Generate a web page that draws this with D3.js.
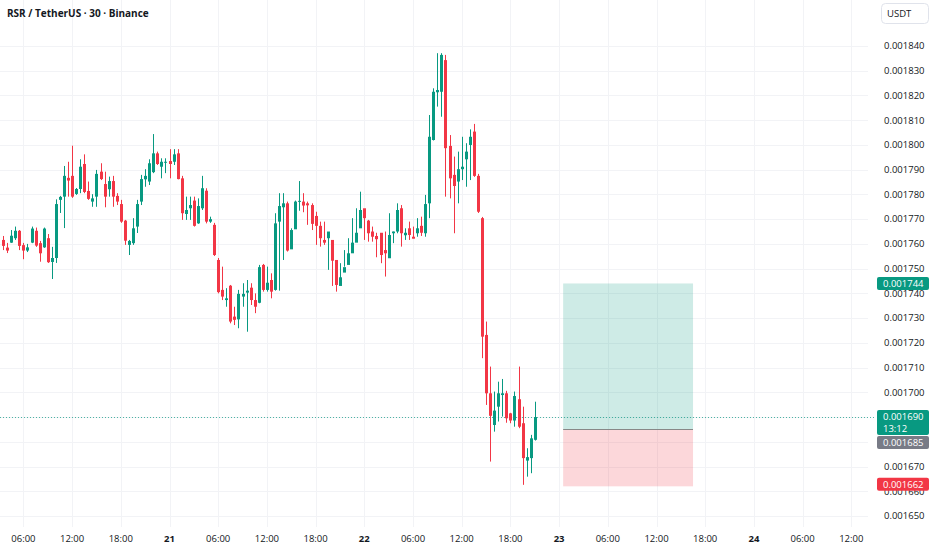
<!DOCTYPE html>
<html>
<head>
<meta charset="utf-8">
<script src="https://cdn.jsdelivr.net/npm/d3@7"></script>
<style>
  html, body { margin: 0; padding: 0; background: #fff; }
  svg { display: block; font-family: "Open Sans", "Noto Sans", sans-serif; }
</style>
</head>
<body>
<svg id="chart" width="932" height="550"></svg>
<script>
// --- data -------------------------------------------------------------
const title = "RSR / TetherUS · 30 · Binance";
const currency = "USDT";
const firstBar = Date.UTC(2025, 5, 20, 3, 30); // 30 min bars from the 20th, 03:30
const barMinutes = 30;

const opens = [
  0.0017616, 0.0017585, 0.0017605, 0.0017623, 0.0017653, 0.0017595, 0.0017573, 0.0017605, 0.0017653, 0.0017603,
  0.0017586, 0.0017623, 0.0017527, 0.0017543, 0.0017778, 0.0017791, 0.0017867, 0.0017875, 0.0017802, 0.0017822,
  0.0017923, 0.0017814, 0.0017771, 0.0017791, 0.0017892, 0.0017842, 0.0017821, 0.0017854, 0.0017794, 0.0017761,
  0.0017694, 0.0017596, 0.0017603, 0.0017670, 0.0017771, 0.0017861, 0.0017852, 0.0017890, 0.0017966, 0.0017912,
  0.0017928, 0.0017935, 0.0017932, 0.0017966, 0.0017865, 0.0017721, 0.0017744, 0.0017775, 0.0017683, 0.0017744,
  0.0017815, 0.0017690, 0.0017677, 0.0017535, 0.0017414, 0.0017373, 0.0017431, 0.0017306, 0.0017295, 0.0017387,
  0.0017403, 0.0017423, 0.0017373, 0.0017362, 0.0017515, 0.0017414, 0.0017454, 0.0017414, 0.0017690, 0.0017748,
  0.0017764, 0.0017578, 0.0017659, 0.0017770, 0.0017771, 0.0017764, 0.0017757, 0.0017713, 0.0017673, 0.0017616,
  0.0017623, 0.0017616, 0.0017535, 0.0017430, 0.0017484, 0.0017515, 0.0017562, 0.0017605, 0.0017663, 0.0017744,
  0.0017694, 0.0017650, 0.0017632, 0.0017645, 0.0017575, 0.0017542, 0.0017643, 0.0017650, 0.0017744, 0.0017635,
  0.0017663, 0.0017629, 0.0017643, 0.0017673, 0.0017643, 0.0017764, 0.0018020, 0.0018213, 0.0018215, 0.0018343,
  0.0017996, 0.0017879, 0.0017852, 0.0017902, 0.0017942, 0.0018000, 0.0018054, 0.0017875, 0.0017704, 0.0017232,
  0.0016996, 0.0016868, 0.0016942, 0.0016989, 0.0016996, 0.0016915, 0.0016886, 0.0016972, 0.0016875, 0.0016724,
  0.0016734, 0.0016808
];
const highs = [
  0.0017632, 0.0017604, 0.0017656, 0.0017670, 0.0017656, 0.0017604, 0.0017600, 0.0017670, 0.0017666, 0.0017612,
  0.0017666, 0.0017640, 0.0017588, 0.0017780, 0.0017794, 0.0017915, 0.0017932, 0.0017997, 0.0017826, 0.0017942,
  0.0017962, 0.0017852, 0.0017801, 0.0017899, 0.0017926, 0.0017892, 0.0017872, 0.0017875, 0.0017805, 0.0017778,
  0.0017697, 0.0017616, 0.0017704, 0.0017778, 0.0017879, 0.0017902, 0.0017942, 0.0018044, 0.0017973, 0.0017946,
  0.0017946, 0.0017983, 0.0017983, 0.0017983, 0.0017875, 0.0017791, 0.0017791, 0.0017791, 0.0017784, 0.0017875,
  0.0017825, 0.0017710, 0.0017685, 0.0017543, 0.0017508, 0.0017421, 0.0017434, 0.0017346, 0.0017414, 0.0017441,
  0.0017454, 0.0017441, 0.0017400, 0.0017515, 0.0017519, 0.0017508, 0.0017481, 0.0017724, 0.0017805, 0.0017805,
  0.0017771, 0.0017663, 0.0017775, 0.0017854, 0.0017805, 0.0017771, 0.0017764, 0.0017730, 0.0017690, 0.0017690,
  0.0017629, 0.0017569, 0.0017522, 0.0017522, 0.0017575, 0.0017623, 0.0017704, 0.0017744, 0.0017811, 0.0017705,
  0.0017697, 0.0017670, 0.0017645, 0.0017609, 0.0017650, 0.0017724, 0.0017650, 0.0017764, 0.0017757, 0.0017663,
  0.0017690, 0.0017670, 0.0017704, 0.0017710, 0.0017798, 0.0018121, 0.0018229, 0.0018371, 0.0018371, 0.0018364,
  0.0018040, 0.0017953, 0.0017973, 0.0018033, 0.0018007, 0.0018063, 0.0018085, 0.0017883, 0.0017709, 0.0017286,
  0.0017104, 0.0017003, 0.0017043, 0.0017054, 0.0017006, 0.0016917, 0.0017003, 0.0017104, 0.0016942, 0.0016774,
  0.0016828, 0.0016962
];
const lows = [
  0.0017575, 0.0017563, 0.0017604, 0.0017616, 0.0017575, 0.0017538, 0.0017567, 0.0017603, 0.0017588, 0.0017528,
  0.0017584, 0.0017523, 0.0017458, 0.0017523, 0.0017725, 0.0017664, 0.0017791, 0.0017786, 0.0017798, 0.0017805,
  0.0017805, 0.0017778, 0.0017750, 0.0017750, 0.0017858, 0.0017748, 0.0017791, 0.0017750, 0.0017757, 0.0017685,
  0.0017596, 0.0017555, 0.0017596, 0.0017644, 0.0017757, 0.0017831, 0.0017838, 0.0017886, 0.0017919, 0.0017865,
  0.0017886, 0.0017865, 0.0017919, 0.0017861, 0.0017697, 0.0017697, 0.0017697, 0.0017670, 0.0017681, 0.0017737,
  0.0017683, 0.0017685, 0.0017551, 0.0017400, 0.0017373, 0.0017346, 0.0017279, 0.0017272, 0.0017259, 0.0017346,
  0.0017245, 0.0017353, 0.0017320, 0.0017360, 0.0017407, 0.0017407, 0.0017380, 0.0017411, 0.0017411, 0.0017535,
  0.0017569, 0.0017656, 0.0017730, 0.0017734, 0.0017728, 0.0017677, 0.0017656, 0.0017596, 0.0017589, 0.0017596,
  0.0017495, 0.0017430, 0.0017407, 0.0017434, 0.0017508, 0.0017542, 0.0017582, 0.0017643, 0.0017701, 0.0017616,
  0.0017609, 0.0017609, 0.0017546, 0.0017522, 0.0017468, 0.0017596, 0.0017603, 0.0017643, 0.0017589, 0.0017616,
  0.0017616, 0.0017623, 0.0017629, 0.0017632, 0.0017629, 0.0017704, 0.0018018, 0.0018155, 0.0018114, 0.0017791,
  0.0017784, 0.0017643, 0.0017764, 0.0017858, 0.0017831, 0.0017858, 0.0017871, 0.0017725, 0.0017138, 0.0016949,
  0.0016720, 0.0016841, 0.0016882, 0.0016902, 0.0016877, 0.0016875, 0.0016861, 0.0016855, 0.0016626, 0.0016659,
  0.0016673, 0.0016805
];
const closes = [
  0.0017592, 0.0017573, 0.0017633, 0.0017653, 0.0017592, 0.0017573, 0.0017586, 0.0017662, 0.0017593, 0.0017562,
  0.0017662, 0.0017526, 0.0017543, 0.0017761, 0.0017790, 0.0017875, 0.0017856, 0.0017791, 0.0017822, 0.0017912,
  0.0017810, 0.0017782, 0.0017784, 0.0017883, 0.0017862, 0.0017791, 0.0017854, 0.0017791, 0.0017771, 0.0017690,
  0.0017613, 0.0017612, 0.0017663, 0.0017761, 0.0017862, 0.0017875, 0.0017926, 0.0017966, 0.0017923, 0.0017932,
  0.0017932, 0.0017923, 0.0017962, 0.0017862, 0.0017724, 0.0017737, 0.0017757, 0.0017673, 0.0017753, 0.0017825,
  0.0017690, 0.0017700, 0.0017555, 0.0017405, 0.0017387, 0.0017380, 0.0017286, 0.0017293, 0.0017398, 0.0017398,
  0.0017411, 0.0017373, 0.0017346, 0.0017506, 0.0017414, 0.0017443, 0.0017407, 0.0017683, 0.0017753, 0.0017764,
  0.0017573, 0.0017656, 0.0017771, 0.0017774, 0.0017755, 0.0017756, 0.0017681, 0.0017673, 0.0017623, 0.0017605,
  0.0017650, 0.0017532, 0.0017434, 0.0017465, 0.0017506, 0.0017562, 0.0017605, 0.0017645, 0.0017737, 0.0017704,
  0.0017643, 0.0017629, 0.0017619, 0.0017555, 0.0017562, 0.0017636, 0.0017650, 0.0017737, 0.0017643, 0.0017645,
  0.0017636, 0.0017621, 0.0017663, 0.0017645, 0.0017761, 0.0018033, 0.0018215, 0.0018222, 0.0018364, 0.0017987,
  0.0017865, 0.0017834, 0.0017902, 0.0017912, 0.0017973, 0.0018033, 0.0017875, 0.0017730, 0.0017225, 0.0016996,
  0.0016905, 0.0016926, 0.0016996, 0.0016996, 0.0016895, 0.0016886, 0.0016985, 0.0016861, 0.0016734, 0.0016738,
  0.0016814, 0.0016900
];

// long position tool and price line
const takeProfit = 0.001744;
const entryPrice = 0.001685;
const stopLoss = 0.001662;
const positionStart = Date.UTC(2025, 5, 23, 0, 30);
const positionEnd = Date.UTC(2025, 5, 23, 16, 30);
const lastPrice = 0.001690;
const countdown = "13:12";

// --- layout -----------------------------------------------------------
const W = 932, H = 550;
const plotRight = 868, plotBottom = 527;
const up = "#089981", down = "#f23645";

const svg = d3.select("#chart");

const x = d3.scaleUtc()
  .domain([Date.UTC(2025, 5, 20), Date.UTC(2025, 5, 25)])
  .range([-25.3, 948.7]);

const y = d3.scaleLinear()
  .domain([0.00165, 0.00184])
  .range([516, 46]);

const bars = opens.map((o, i) => ({
  t: d3.utcMinute.offset(new Date(firstBar), barMinutes * i),
  o: o, h: highs[i], l: lows[i], c: closes[i]
}));

const fmtPrice = d3.format(".6f");
const priceTicks = y.ticks(20);
const timeTicks = d3.utcHour.every(6)
  .range(x.invert(0), x.invert(plotRight));

// tag boxes on the price axis (top, height) - tick labels fully under them are dropped
const lastTop = y(lastPrice) - 7;
const tagBoxes = [
  { top: y(takeProfit) - 6.5, h: 13, fill: up, lines: [fmtPrice(takeProfit)] },
  { top: lastTop, h: 25, fill: up, lines: [fmtPrice(lastPrice), countdown] },
  { top: lastTop + 26, h: 13, fill: "#787b86", lines: [fmtPrice(entryPrice)] },
  { top: y(stopLoss) - 8.5, h: 13, fill: down, lines: [fmtPrice(stopLoss)] }
];
const hidden = d => tagBoxes.some(b => y(d) - 3 >= b.top && y(d) + 3 <= b.top + b.h);

// grid
const grid = svg.append("g").attr("class", "grid")
  .attr("stroke", "#f2f3f6").attr("stroke-width", 1);

grid.selectAll("line.h")
  .data(priceTicks)
  .join("line")
  .attr("class", "h")
  .attr("x1", 0).attr("x2", plotRight)
  .attr("y1", d => Math.round(y(d)) + 0.5)
  .attr("y2", d => Math.round(y(d)) + 0.5);

grid.selectAll("line.v")
  .data(timeTicks)
  .join("line")
  .attr("class", "v")
  .attr("y1", 0).attr("y2", plotBottom)
  .attr("x1", d => Math.round(x(d)) + 0.5)
  .attr("x2", d => Math.round(x(d)) + 0.5);

// position tool
const pos = svg.append("g").attr("class", "position");
pos.append("rect")
  .attr("x", x(positionStart))
  .attr("width", x(positionEnd) - x(positionStart))
  .attr("y", y(takeProfit))
  .attr("height", y(entryPrice) - y(takeProfit))
  .attr("fill", "rgba(8,153,129,0.2)");
pos.append("rect")
  .attr("x", x(positionStart))
  .attr("width", x(positionEnd) - x(positionStart))
  .attr("y", y(entryPrice))
  .attr("height", y(stopLoss) - y(entryPrice))
  .attr("fill", "rgba(242,54,69,0.2)");
pos.append("line")
  .attr("x1", x(positionStart)).attr("x2", x(positionEnd))
  .attr("y1", Math.round(y(entryPrice)) + 0.5)
  .attr("y2", Math.round(y(entryPrice)) + 0.5)
  .attr("stroke", "#888").attr("stroke-width", 1);

// last price dotted line
svg.append("line")
  .attr("x1", 0).attr("x2", plotRight + 8)
  .attr("y1", Math.round(y(lastPrice)) + 0.5)
  .attr("y2", Math.round(y(lastPrice)) + 0.5)
  .attr("stroke", up).attr("stroke-opacity", 0.7)
  .attr("stroke-dasharray", "1,2");

// candles
const candle = svg.append("g").attr("class", "candles")
  .selectAll("g")
  .data(bars)
  .join("g")
  .attr("fill", d => d.c >= d.o ? up : down)
  .attr("stroke", d => d.c >= d.o ? up : down);

candle.append("line")
  .attr("x1", d => Math.round(x(d.t)) + 0.5)
  .attr("x2", d => Math.round(x(d.t)) + 0.5)
  .attr("y1", d => y(d.h))
  .attr("y2", d => y(d.l))
  .attr("stroke-width", 1);

candle.append("rect")
  .attr("stroke", "none")
  .attr("x", d => Math.round(x(d.t)) - 1)
  .attr("width", 3)
  .attr("y", d => y(Math.max(d.o, d.c)))
  .attr("height", d => Math.max(1, Math.abs(y(d.o) - y(d.c))));

// price axis
const axisText = "#131722";
const labelX = 884;
svg.append("g").attr("class", "price-axis")
  .selectAll("text")
  .data(priceTicks.filter(d => !hidden(d)))
  .join("text")
  .attr("x", labelX)
  .attr("y", d => y(d))
  .attr("dy", "0.35em")
  .attr("font-size", 9.5)
  .attr("fill", axisText)
  .text(d => fmtPrice(d));

// time axis
svg.append("g").attr("class", "time-axis")
  .selectAll("text")
  .data(timeTicks)
  .join("text")
  .attr("x", d => x(d))
  .attr("y", 539)
  .attr("dy", "0.35em")
  .attr("text-anchor", "middle")
  .attr("font-size", 9.5)
  .attr("font-weight", d => d.getUTCHours() === 0 ? "bold" : "normal")
  .attr("fill", axisText)
  .text(d => d.getUTCHours() === 0 ? d3.utcFormat("%-d")(d) : d3.utcFormat("%H:%M")(d));

// price tags on the axis
const tags = svg.append("g").attr("class", "tags");
tagBoxes.forEach(b => {
  tags.append("rect")
    .attr("x", 877).attr("y", b.top)
    .attr("width", 52).attr("height", b.h)
    .attr("rx", 2).attr("fill", b.fill);
  b.lines.forEach((s, i) => {
    tags.append("text")
      .attr("x", labelX - 1)
      .attr("y", b.top + 6.5 + i * 12)
      .attr("dy", "0.35em")
      .attr("font-size", 9.5)
      .attr("fill", "#fff")
      .text(s);
  });
});

// currency button
svg.append("rect")
  .attr("x", 881.5).attr("y", 3.5)
  .attr("width", 47).attr("height", 20)
  .attr("rx", 4)
  .attr("fill", "#fff").attr("stroke", "#e0e3eb");
svg.append("text")
  .attr("x", 887).attr("y", 13.5)
  .attr("dy", "0.35em")
  .attr("font-size", 9.5)
  .attr("fill", axisText)
  .text(currency);

// title
svg.append("text")
  .attr("x", 7).attr("y", 13)
  .attr("dy", "0.35em")
  .attr("font-size", 10)
  .attr("font-weight", "bold")
  .attr("fill", axisText)
  .text(title);
</script>
</body>
</html>
